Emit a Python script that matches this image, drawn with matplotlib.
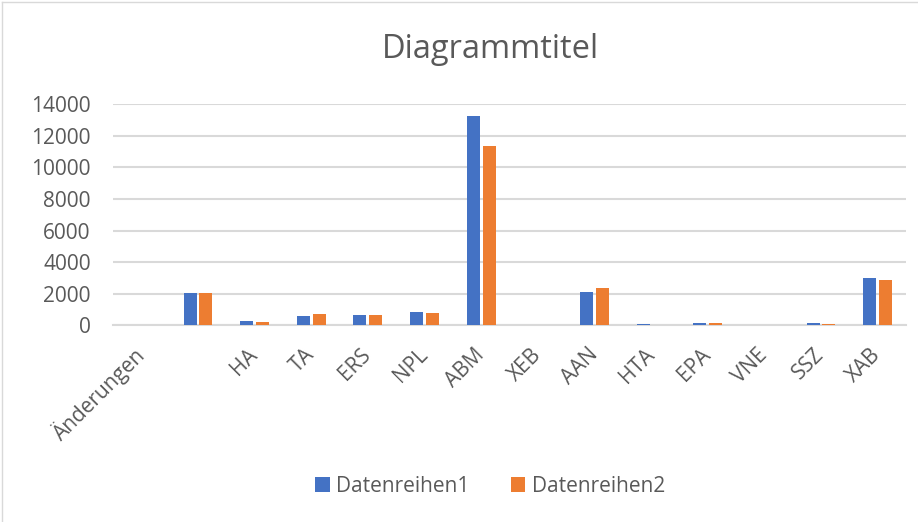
import matplotlib
matplotlib.use("Agg")
import matplotlib.pyplot as plt
import numpy as np
from matplotlib.lines import Line2D

categories = ["Änderungen", "", "HA", "TA", "ERS", "NPL", "ABM", "XEB", "AAN", "HTA", "EPA", "VNE", "SSZ", "XAB"]
series1 = [0, 2030, 250, 570, 630, 820, 13250, 0, 2090, 60, 140, 0, 140, 2980]
series2 = [0, 2030, 200, 710, 630, 780, 11380, 0, 2340, 50, 140, 0, 110, 2900]
series_names = ["Datenreihen1", "Datenreihen2"]
yticks = [0, 2000, 4000, 6000, 8000, 10000, 12000, 14000]

plt.rcParams['font.family'] = ['Open Sans', 'DejaVu Sans']

W, H = 918, 522
fig = plt.figure(figsize=(W/100, H/100), dpi=100)
ax = fig.add_axes([113/W, 1 - 325.3/H, (906-113)/W, (325.3-104.3)/H])

x = np.arange(len(categories))
w = 0.23
gap = 0.05
ax.bar(x - w/2 - gap/2, series1, width=w, color="#4472C4", label=series_names[0], zorder=3)
ax.bar(x + w/2 + gap/2, series2, width=w, color="#ED7D31", label=series_names[1], zorder=3)

ax.set_xlim(-0.5, len(categories) - 0.5)
ax.set_ylim(0, 14000)
ax.set_yticks(yticks)
ax.set_yticklabels([str(v) for v in yticks], fontsize=15, color="#595959")
ax.yaxis.grid(True, color="#D9D9D9", linewidth=1.5, zorder=0)
ax.set_axisbelow(True)
for s in ["top", "right", "left"]:
    ax.spines[s].set_visible(False)
ax.spines["bottom"].set_color("#D9D9D9")
ax.spines["bottom"].set_linewidth(1.5)
ax.tick_params(axis="y", length=0, pad=16)
ax.tick_params(axis="x", length=0, pad=19)
ax.set_xticks(x)
ax.set_xticklabels(categories, rotation=45, ha="right", va="center", rotation_mode="anchor",
                   fontsize=15, color="#595959")

fig.text(490/W, 1 - 50/H, "Diagrammtitel", ha="center", va="center", fontsize=23.5, color="#595959")

handles, labels = ax.get_legend_handles_labels()
fig.legend(handles, labels, loc="center", bbox_to_anchor=(490/W, 1 - 486/H), ncol=2,
           frameon=False, fontsize=15, labelcolor="#595959", handlelength=0.7, handleheight=0.7,
           columnspacing=2.0, handletextpad=0.3)

fig.add_artist(Line2D([1.5/W, 1.5/W], [0, 1 - 1.5/H], transform=fig.transFigure, color="#D9D9D9", lw=1))
fig.add_artist(Line2D([1.5/W, 1], [1 - 1.5/H, 1 - 1.5/H], transform=fig.transFigure, color="#D9D9D9", lw=1))

fig.savefig("out.png", dpi=100, facecolor="white")
